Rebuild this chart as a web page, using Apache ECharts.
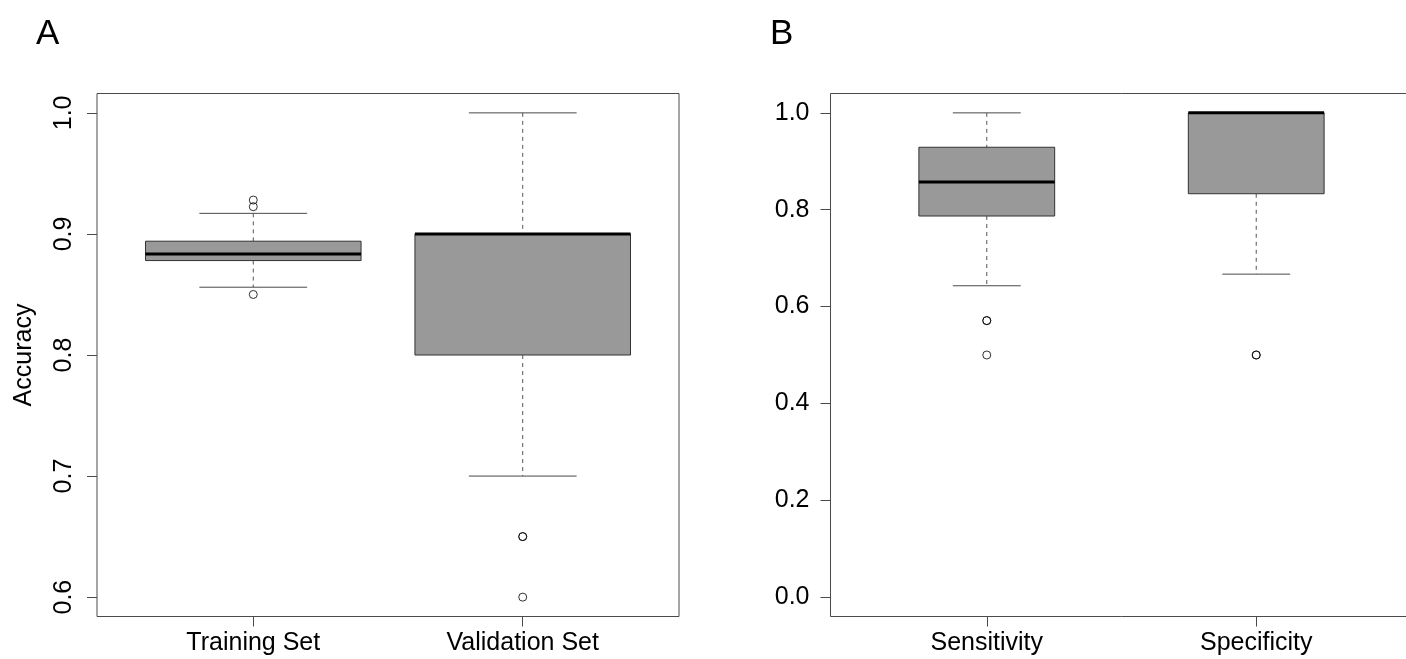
<!DOCTYPE html>
<html>
<head>
<meta charset="utf-8">
<script src="https://cdn.jsdelivr.net/npm/echarts@6/dist/echarts.min.js"></script>
<style>
html,body{margin:0;padding:0;background:#fff;overflow:hidden;}
#chart{width:1420px;height:659px;}
</style>
</head>
<body>
<div id="chart"></div>
<script>
// ---------- Panel A data ----------
const categoriesA = ['Training Set', 'Validation Set'];
const lowerWhiskerA = [0.856, 0.70];
const q1A = [0.878, 0.80];
const medianA = [0.8835, 0.90];
const q3A = [0.894, 0.90];
const upperWhiskerA = [0.917, 1.00];
const outlierCatA = [0, 0, 0, 1, 1, 1];
const outlierValA = [0.928, 0.9225, 0.850, 0.65, 0.65, 0.60];
const yTicksA = [0.6, 0.7, 0.8, 0.9, 1.0];

// ---------- Panel B data ----------
const categoriesB = ['Sensitivity', 'Specificity'];
const lowerWhiskerB = [0.643, 0.667];
const q1B = [0.787, 0.833];
const medianB = [0.857, 1.00];
const q3B = [0.929, 1.00];
const upperWhiskerB = [1.00, 1.00];
const outlierCatB = [0, 0, 0, 1, 1];
const outlierValB = [0.571, 0.571, 0.50, 0.50, 0.50];
const yTicksB = [0.0, 0.2, 0.4, 0.6, 0.8, 1.0];

const FONT = '"Liberation Sans", Arial, Helvetica, sans-serif';
const BORDER = '#4a4a4a';

function boxData(lw, q1, med, q3, uw) {
  return lw.map((v, i) => [i + 1, lw[i], q1[i], med[i], q3[i], uw[i]]);
}
function outData(cat, val) {
  return cat.map((c, i) => [c + 1, val[i]]);
}

function makeRender(halfW) {
  return function (params, api) {
    const x = api.value(0);
    const lw = api.value(1), q1 = api.value(2), med = api.value(3), q3 = api.value(4), uw = api.value(5);
    const staple = halfW / 2;
    const c = (xx, yy) => api.coord([xx, yy]);
    const pC = c(x, q1), pLw = c(x, lw), pQ3 = c(x, q3), pUw = c(x, uw);
    const tl = c(x - halfW, q3), br = c(x + halfW, q1);
    const dashStyle = { stroke: '#555', lineWidth: 1, lineDash: [4, 4], fill: null };
    const solid = { stroke: BORDER, lineWidth: 1, fill: null };
    const children = [];
    children.push({ type: 'line', shape: { x1: pUw[0], y1: pUw[1], x2: pQ3[0], y2: pQ3[1] }, style: dashStyle });
    children.push({ type: 'line', shape: { x1: pC[0], y1: pC[1], x2: pLw[0], y2: pLw[1] }, style: dashStyle });
    const s1 = c(x - staple, uw), s2 = c(x + staple, uw);
    children.push({ type: 'line', shape: { x1: s1[0], y1: s1[1], x2: s2[0], y2: s2[1] }, style: solid });
    const s3 = c(x - staple, lw), s4 = c(x + staple, lw);
    children.push({ type: 'line', shape: { x1: s3[0], y1: s3[1], x2: s4[0], y2: s4[1] }, style: solid });
    children.push({ type: 'rect', shape: { x: tl[0], y: tl[1], width: br[0] - tl[0], height: br[1] - tl[1] },
      style: { fill: '#999999', stroke: '#333', lineWidth: 1 } });
    const m1 = c(x - halfW, med), m2 = c(x + halfW, med);
    children.push({ type: 'line', shape: { x1: m1[0], y1: m1[1], x2: m2[0], y2: m2[1] }, style: { stroke: '#000', lineWidth: 3 } });
    return { type: 'group', children };
  };
}

function xAxisCfg(gridIndex, cats) {
  return {
    type: 'value', gridIndex, min: 0.42, max: 2.58, position: 'bottom',
    splitLine: { show: false },
    axisLine: { show: false, onZero: false },
    axisTick: { show: true, length: 10, inside: false, customValues: [1, 2], lineStyle: { color: BORDER } },
    axisLabel: { customValues: [1, 2], margin: 14, fontSize: 25, color: '#000', fontFamily: FONT,
      formatter: v => cats[Math.round(v) - 1] }
  };
}

const option = {
  backgroundColor: '#fff',
  animation: false,
  title: [
    { text: 'A', left: 31, top: 12, textStyle: { fontSize: 35, fontWeight: 'normal', color: '#000', fontFamily: FONT } },
    { text: 'B', left: 765, top: 12, textStyle: { fontSize: 35, fontWeight: 'normal', color: '#000', fontFamily: FONT } }
  ],
  grid: [
    { left: 97, top: 93.5, width: 582, height: 523, show: true, borderColor: BORDER, borderWidth: 1, backgroundColor: 'transparent' },
    { left: 830.5, top: 93.5, width: 582, height: 523, show: true, borderColor: BORDER, borderWidth: 1, backgroundColor: 'transparent' }
  ],
  xAxis: [xAxisCfg(0, categoriesA), xAxisCfg(1, categoriesB)],
  yAxis: [
    {
      type: 'value', gridIndex: 0, min: 0.584, max: 1.016,
      name: 'Accuracy', nameLocation: 'middle', nameRotate: 90, nameGap: 60,
      nameTextStyle: { fontSize: 25, color: '#000', fontFamily: FONT },
      splitLine: { show: false },
      axisLine: { show: false, onZero: false },
      axisTick: { show: true, length: 10, customValues: yTicksA, lineStyle: { color: BORDER } },
      axisLabel: { customValues: yTicksA, rotate: 90, margin: 20, fontSize: 25, color: '#000', fontFamily: FONT,
        formatter: v => v.toFixed(1) }
    },
    {
      type: 'value', gridIndex: 1, min: -0.04, max: 1.04,
      splitLine: { show: false },
      axisLine: { show: false, onZero: false },
      axisTick: { show: true, length: 10, customValues: yTicksB, lineStyle: { color: BORDER } },
      axisLabel: { customValues: yTicksB, margin: 21, fontSize: 25, color: '#000', fontFamily: FONT,
        formatter: v => v.toFixed(1) }
    }
  ],
  series: [
    { type: 'custom', xAxisIndex: 0, yAxisIndex: 0, renderItem: makeRender(0.4),
      data: boxData(lowerWhiskerA, q1A, medianA, q3A, upperWhiskerA), encode: { x: 0, y: [1, 2, 3, 4, 5] }, z: 2 },
    { type: 'scatter', xAxisIndex: 0, yAxisIndex: 0, symbol: 'circle', symbolSize: 8,
      itemStyle: { color: 'rgba(255,255,255,0)', borderColor: '#000', borderWidth: 1 },
      data: outData(outlierCatA, outlierValA), z: 3 },
    { type: 'custom', xAxisIndex: 1, yAxisIndex: 1, renderItem: makeRender(0.252),
      data: boxData(lowerWhiskerB, q1B, medianB, q3B, upperWhiskerB), encode: { x: 0, y: [1, 2, 3, 4, 5] }, z: 2 },
    { type: 'scatter', xAxisIndex: 1, yAxisIndex: 1, symbol: 'circle', symbolSize: 8,
      itemStyle: { color: 'rgba(255,255,255,0)', borderColor: '#000', borderWidth: 1 },
      data: outData(outlierCatB, outlierValB), z: 3 }
  ]
};

const chart = echarts.init(document.getElementById('chart'), null, { renderer: 'canvas' });
chart.setOption(option);
</script>
</body>
</html>
